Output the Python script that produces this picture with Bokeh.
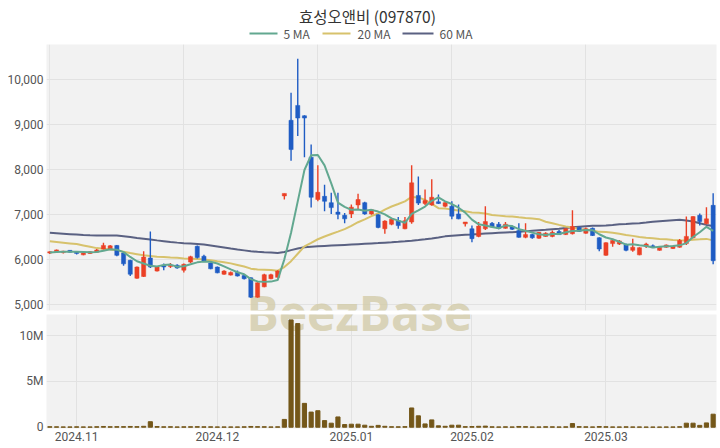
from bokeh.plotting import figure
from bokeh.models import (ColumnDataSource, Range1d, FixedTicker, Grid,
                          NumeralTickFormatter)
from bokeh.layouts import column
from bokeh.embed import file_html
from bokeh.resources import INLINE
from bokeh.core.properties import value

chart_title = "효성오앤비 (097870)"
legend_labels = ["5 MA", "20 MA", "60 MA"]
month_ticks = [4, 25, 45, 63, 83]
month_labels = ["2024.11", "2024.12", "2025.01", "2025.02", "2025.03"]
price_grid_x = [20, 40, 60, 80]
price_ticks = [5000, 6000, 7000, 8000, 9000, 10000]
vol_ticks = [0, 5000000, 10000000]
vol_labels = ["0", "5M", "10M"]

open_ = [6150, 6180, 6160, 6210, 6180, 6110, 6140, 6170, 6240, 6240,
         6320, 6150, 5990, 5590, 5630, 6040, 5750, 5880, 5850, 5880,
         5770, 5950, 6300, 6080, 5930, 5840, 5680, 5660, 5725, 5650,
         5600, 5170, 5400, 5580, 5610, 7420, 9100, 9430, 9200, 8280,
         7340, 7410, 7270, 7060, 6990, 7020, 7220, 7270, 7020, 7000,
         6690, 6790, 6870, 6690, 6840, 7430, 7250, 7220, 7290, 7190,
         7190, 7020, 6800, 6690, 6520, 6690, 6810, 6790, 6700, 6740,
         6650, 6500, 6560, 6480, 6520, 6520, 6630, 6560, 6580, 6720,
         6590, 6700, 6490, 6100, 6360, 6350, 6340, 6210, 6110, 6300,
         6310, 6210, 6280, 6250, 6280, 6360, 6490, 6990, 6800, 7210]
high = [6190, 6230, 6200, 6220, 6190, 6160, 6190, 6240, 6380, 6330,
        6330, 6160, 6000, 5850, 6190, 6630, 5860, 5920, 5930, 5900,
        5920, 6090, 6320, 6110, 5940, 5850, 5770, 5740, 5760, 5670,
        5610, 5500, 5690, 5690, 5770, 7475, 9710, 10470, 9210, 8560,
        8100, 7670, 7490, 7490, 7040, 7230, 7470, 7290, 7130, 7010,
        6880, 6920, 6950, 6950, 8100, 7850, 7560, 7790, 7450, 7290,
        7300, 7230, 6840, 6760, 6840, 7190, 6840, 6840, 6840, 6760,
        6810, 6810, 6580, 6620, 6610, 6650, 6660, 6700, 7100, 6740,
        6720, 6720, 6500, 6390, 6470, 6440, 6360, 6470, 6280, 6380,
        6340, 6290, 6340, 6310, 6460, 6960, 6970, 7030, 7170, 7480]
low = [6130, 6170, 6140, 6160, 6120, 6100, 6130, 6160, 6230, 6230,
       6080, 5870, 5640, 5580, 5620, 5820, 5740, 5770, 5820, 5800,
       5720, 5930, 6030, 5950, 5790, 5700, 5670, 5650, 5630, 5560,
       5150, 5160, 5390, 5570, 5600, 7340, 8200, 8750, 8280, 7160,
       7300, 7080, 7020, 6900, 6810, 6930, 7130, 7000, 7000, 6700,
       6580, 6770, 6690, 6680, 6800, 7220, 7220, 7200, 7240, 7170,
       6900, 6900, 6740, 6390, 6500, 6660, 6720, 6680, 6690, 6660,
       6490, 6480, 6470, 6470, 6510, 6500, 6550, 6550, 6560, 6620,
       6580, 6530, 6190, 6090, 6290, 6330, 6190, 6180, 6100, 6260,
       6260, 6200, 6270, 6240, 6270, 6330, 6480, 6760, 6790, 5900]
close = [6180, 6220, 6190, 6170, 6140, 6150, 6180, 6220, 6320, 6310,
         6100, 5910, 5680, 5840, 6060, 5840, 5850, 5840, 5880, 5820,
         5900, 6070, 6050, 5960, 5800, 5710, 5750, 5720, 5640, 5580,
         5170, 5490, 5670, 5670, 5750, 7475, 8450, 9150, 9150, 7390,
         7500, 7300, 7160, 7010, 6910, 7170, 7340, 7020, 7110, 6720,
         6860, 6900, 6760, 6870, 7710, 7260, 7320, 7390, 7250, 7270,
         6970, 6910, 6840, 6470, 6750, 6850, 6730, 6700, 6790, 6680,
         6500, 6560, 6490, 6610, 6590, 6610, 6560, 6690, 6740, 6630,
         6690, 6540, 6240, 6380, 6430, 6420, 6210, 6280, 6270, 6350,
         6270, 6280, 6330, 6300, 6430, 6520, 6960, 6850, 6910, 5980]
volume = [50000, 40000, 30000, 30000, 40000, 30000, 30000, 50000, 80000, 50000,
          60000, 60000, 80000, 60000, 100000, 600000, 70000, 40000, 50000, 30000,
          40000, 50000, 60000, 40000, 40000, 30000, 30000, 30000, 30000, 40000,
          80000, 60000, 50000, 30000, 40000, 850000, 11700000, 11300000, 2600000, 1650000,
          1800000, 720000, 440000, 1120000, 290000, 330000, 330000, 220000, 100000, 200000,
          100000, 50000, 40000, 60000, 2100000, 1240000, 360000, 800000, 150000, 100000,
          220000, 220000, 60000, 70000, 100000, 120000, 40000, 30000, 40000, 30000,
          80000, 60000, 30000, 30000, 50000, 40000, 30000, 40000, 400000, 60000,
          40000, 30000, 70000, 50000, 30000, 30000, 40000, 30000, 30000, 20000,
          20000, 20000, 30000, 30000, 50000, 440000, 440000, 200000, 470000, 1420000]
ma5 = [6165, 6175, 6180, 6180, 6180, 6174, 6166, 6172, 6202, 6236,
       6226, 6172, 6064, 5968, 5918, 5866, 5854, 5886, 5894, 5846,
       5858, 5902, 5944, 5960, 5956, 5918, 5854, 5788, 5724, 5680,
       5572, 5520, 5510, 5516, 5550, 6011, 6603, 7299, 7995, 8323,
       8328, 8098, 7700, 7272, 7176, 7110, 7118, 7090, 7110, 7072,
       7010, 6922, 6870, 6822, 7020, 7100, 7184, 7310, 7386, 7298,
       7240, 7158, 7048, 6892, 6788, 6764, 6728, 6700, 6764, 6750,
       6680, 6646, 6604, 6568, 6550, 6572, 6572, 6612, 6638, 6646,
       6662, 6658, 6568, 6496, 6456, 6402, 6336, 6344, 6322, 6306,
       6276, 6290, 6300, 6306, 6322, 6372, 6508, 6612, 6734, 6644]
ma20 = [6410, 6395, 6380, 6365, 6350, 6320, 6290, 6260, 6245, 6230,
        6210, 6180, 6150, 6125, 6100, 6085, 6070, 6060, 6050, 6045,
        6031, 6024, 6017, 6006, 5989, 5967, 5946, 5921, 5887, 5850,
        5804, 5783, 5782, 5774, 5758, 5840, 5970, 6135, 6299, 6377,
        6457, 6519, 6574, 6627, 6682, 6755, 6835, 6900, 6973, 7030,
        7115, 7185, 7240, 7300, 7398, 7387, 7331, 7243, 7148, 7142,
        7115, 7096, 7080, 7053, 7045, 7029, 6998, 6982, 6966, 6964,
        6946, 6929, 6916, 6903, 6847, 6814, 6776, 6741, 6716, 6684,
        6670, 6651, 6621, 6617, 6601, 6579, 6553, 6532, 6506, 6490,
        6478, 6464, 6456, 6441, 6433, 6428, 6448, 6456, 6465, 6432]
ma60 = [6600, 6590, 6580, 6570, 6560, 6550, 6545, 6542, 6540, 6540,
        6538, 6525, 6505, 6485, 6468, 6450, 6432, 6415, 6398, 6382,
        6370, 6362, 6354, 6340, 6320, 6298, 6275, 6250, 6228, 6210,
        6192, 6178, 6168, 6160, 6152, 6175, 6215, 6250, 6280, 6290,
        6300, 6308, 6316, 6324, 6332, 6340, 6348, 6356, 6364, 6372,
        6381, 6390, 6400, 6412, 6425, 6440, 6456, 6474, 6495, 6521,
        6534, 6546, 6557, 6562, 6572, 6584, 6593, 6601, 6609, 6615,
        6621, 6632, 6646, 6659, 6667, 6680, 6692, 6706, 6721, 6734,
        6747, 6755, 6758, 6765, 6776, 6788, 6795, 6805, 6815, 6828,
        6846, 6859, 6870, 6881, 6892, 6876, 6852, 6813, 6776, 6752]

UP = "#eb4026"
DOWN = "#1f5cc4"
C5 = "#62a890"
C20 = "#d7c26c"
C60 = "#5a6182"
VOLC = "#745719"
BG = "#f2f2f2"
GRID = "#e2e2e2"
FONT = "Roboto"
KFONT = "Noto Sans CJK KR"
WM_COLOR = "#d2cba8"

n = len(close)
xs = list(range(n))
colors = [UP if c >= o else DOWN for o, c in zip(open_, close)]
src = ColumnDataSource(dict(
    x=xs, o=open_, h=high, l=low, c=close,
    top=[max(o, c) for o, c in zip(open_, close)],
    bot=[min(o, c) for o, c in zip(open_, close)],
    col=colors, vol=volume, ma5=ma5, ma20=ma20, ma60=ma60))

W = 720
HH, H1, H2 = 44, 268, 136
LB, RB = 46, 4

# ---------- header: title + legend (frame aligned with panels; data x == pixel x) ----------
hdr = figure(width=W, height=HH, x_range=Range1d(LB, W - RB), y_range=Range1d(HH, 0),
             output_backend="svg", toolbar_location=None,
             x_axis_location=None, y_axis_location=None,
             min_border_left=LB, min_border_right=RB, min_border_top=0,
             min_border_bottom=0, outline_line_color=None,
             background_fill_color="white", border_fill_color="white")
hdr.xgrid.visible = False
hdr.ygrid.visible = False
hdr.text(x=[367], y=[15], text=[chart_title], text_align="center",
         text_baseline="middle", text_font=value(KFONT),
         text_font_size="15.5px", text_color="#333333")
hdr.segment(x0=[249, 322, 402], y0=[33, 33, 33], x1=[277, 350, 433],
            y1=[33, 33, 33], line_color=[C5, C20, C60], line_width=2)
hdr.text(x=[283, 357, 439], y=[33, 33, 33], text=legend_labels,
         text_align="left", text_baseline="middle", text_font=value(KFONT),
         text_font_size="12px", text_color="#555555")

# ---------- price panel ----------
xr = Range1d(-0.5, n - 0.5)
pr = Range1d(4874, 10784)
vr = Range1d(-140000, 12290000)

p = figure(width=W, height=H1, x_range=xr, y_range=pr,
           output_backend="svg", toolbar_location=None, x_axis_location=None,
           min_border_left=LB, min_border_right=RB, min_border_top=0,
           min_border_bottom=2, background_fill_color=BG,
           border_fill_color="white", outline_line_color=None)
p.ygrid.ticker = FixedTicker(ticks=price_ticks)
p.ygrid.grid_line_color = GRID
p.add_layout(Grid(dimension=0, ticker=FixedTicker(ticks=price_grid_x),
                  grid_line_color=GRID))
p.yaxis.ticker = FixedTicker(ticks=price_ticks)
p.yaxis.formatter = NumeralTickFormatter(format="0,0")

p.text(x=[46.2], y=[4830], text=["BeezBase"], text_align="center",
       text_baseline="middle", text_font=value("Open Sans"),
       text_font_style="bold", text_font_size="48px", text_color=WM_COLOR,
       text_alpha=0.8)
p.line("x", "ma60", source=src, line_color=C60, line_width=2)
p.line("x", "ma20", source=src, line_color=C20, line_width=2)
p.segment("x", "h", "x", "l", source=src, line_color="col", line_width=1.4)
p.vbar(x="x", top="top", bottom="bot", width=0.62, source=src,
       fill_color="col", line_color="col", line_width=0.5)
p.line("x", "ma5", source=src, line_color=C5, line_width=2)

# ---------- volume panel ----------
v = figure(width=W, height=H2, x_range=xr, y_range=vr,
           output_backend="svg", toolbar_location=None,
           min_border_left=LB, min_border_right=RB, min_border_top=2,
           min_border_bottom=20, background_fill_color=BG,
           border_fill_color="white", outline_line_color=None)
v.text(x=[46.2], y=[12510000], text=["BeezBase"],
       text_align="center", text_baseline="middle",
       text_font=value("Open Sans"), text_font_style="bold",
       text_font_size="48px", text_color=WM_COLOR, text_alpha=0.8)
v.vbar(x="x", top="vol", bottom=0, width=0.62, source=src,
       fill_color=VOLC, line_color=VOLC)
v.ygrid.ticker = FixedTicker(ticks=vol_ticks)
v.xgrid.ticker = FixedTicker(ticks=month_ticks)
v.ygrid.grid_line_color = GRID
v.xgrid.grid_line_color = GRID
v.yaxis.ticker = FixedTicker(ticks=vol_ticks)
v.yaxis.major_label_overrides = dict(zip(vol_ticks, vol_labels))
v.xaxis.ticker = FixedTicker(ticks=month_ticks)
v.xaxis.major_label_overrides = dict(zip(month_ticks, month_labels))

for ax in (p.yaxis, v.yaxis, v.xaxis):
    ax.axis_line_color = None
    ax.major_tick_line_color = None
    ax.minor_tick_line_color = None
    ax.major_tick_out = 0
    ax.major_label_text_font = FONT
    ax.major_label_text_font_size = "12px"
    ax.major_label_text_color = "#555555"
    ax.major_label_standoff = 3

lay = column(hdr, p, v, spacing=0)
open("out.html", "w").write(file_html(lay, INLINE))
